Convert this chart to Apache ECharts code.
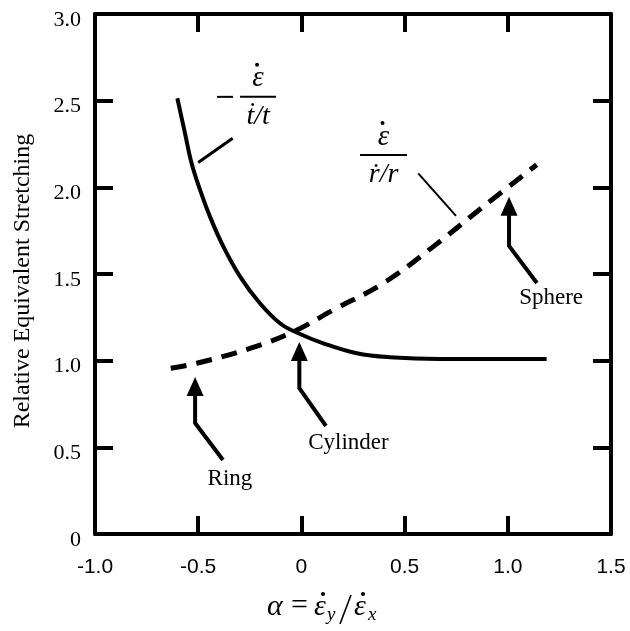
<!DOCTYPE html>
<html>
<head>
<meta charset="utf-8">
<script src="https://cdn.jsdelivr.net/npm/echarts@6/dist/echarts.min.js"></script>
<style>
html, body { margin: 0; padding: 0; background: #fff; }
#chart { width: 630px; height: 631px; }
</style>
</head>
<body>
<div id="chart"></div>
<script>
// solid curve: -eps / (t'/t)
var timeX = [-0.601, -0.564, -0.532, -0.491, -0.443, -0.378, -0.297, -0.201, -0.104, -0.015, 0.106, 0.268, 0.429, 0.672, 0.900, 1.188];
var timeY = [2.514, 2.312, 2.139, 1.985, 1.831, 1.658, 1.485, 1.331, 1.216, 1.158, 1.100, 1.043, 1.020, 1.010, 1.010, 1.010];
// dashed curve: eps / (r'/r)
var radiusX = [-0.633, -0.507, -0.249, -0.039, 0.155, 0.397, 0.639, 0.881, 1.140];
var radiusY = [0.956, 0.985, 1.071, 1.167, 1.293, 1.447, 1.658, 1.889, 2.130];

// arrow annotations (data coords)
var arrowNames = ['Sphere', 'Cylinder', 'Ring'];
var arrowTip = [[1.006, 1.945], [-0.010, 1.108], [-0.515, 0.906]];
var arrowBend = [1.662, 0.842, 0.640];
var arrowTail = [[1.141, 1.448], [0.119, 0.623], [-0.380, 0.427]];
var arrowLabel = [[1.210, 1.362], [0.228, 0.525], [-0.346, 0.317]];

// curve labels (fractions) and their leader lines
var fracAt = [[-0.210, 2.522], [0.398, 2.187]];
var fracDen = ['\u1E6B/t', '\u1E59/r'];
var leaderFrom = [[-0.500, 2.143], [0.566, 2.081]];
var leaderTo = [[-0.333, 2.283], [0.749, 1.835]];

var xTicks = [-1.0, -0.5, 0, 0.5, 1.0, 1.5];
var yTicks = [0, 0.5, 1.0, 1.5, 2.0, 2.5, 3.0];

var serif = '"Liberation Serif", "Times New Roman", serif';
var sans = '"Liberation Sans", Arial, sans-serif';

function zip(xs, ys) {
    return xs.map(function (x, i) { return [x, ys[i]]; });
}

function fmt(v) {
    return v === 0 ? '0' : v.toFixed(1);
}

function txt(x, y, s, font, align) {
    return { type: 'text', x: x, y: y,
             style: { text: s, font: font, fill: '#000', align: align || 'left', verticalAlign: 'middle' } };
}

function dot(x, y, r) {
    return { type: 'circle', shape: { cx: x, cy: y, r: r || 2 }, style: { fill: '#000' } };
}

function drawArrow(params, api) {
    var i = params.dataIndex;
    var tip = api.coord(arrowTip[i]);
    var bend = api.coord([arrowTip[i][0], arrowBend[i]]);
    var tail = api.coord(arrowTail[i]);
    var lab = api.coord(arrowLabel[i]);
    var hh = 19, hw = 8.5;
    return {
        type: 'group',
        children: [
            { type: 'polyline', shape: { points: [tail, bend, [tip[0], tip[1] + hh - 2]] },
              style: { stroke: '#000', lineWidth: 4, fill: null } },
            { type: 'polygon', shape: { points: [tip, [tip[0] - hw, tip[1] + hh], [tip[0] + hw, tip[1] + hh]] },
              style: { fill: '#000' } },
            txt(lab[0], lab[1], arrowNames[i], '23px ' + serif, 'center')
        ]
    };
}

function drawFraction(params, api) {
    var i = params.dataIndex;
    var p = api.coord(fracAt[i]);
    var half = i === 0 ? 18 : 23.5;
    var kids = [
        { type: 'line', shape: { x1: p[0] - half, y1: p[1], x2: p[0] + half, y2: p[1] },
          style: { stroke: '#000', lineWidth: 2 } },
        txt(p[0], p[1] - 18, '\u03B5', 'italic 29px ' + serif, 'center'),
        dot(p[0] - 1, p[1] - 32, 2),
        txt(p[0], p[1] + 20, fracDen[i], 'italic 28px ' + serif, 'center')
    ];
    if (i === 0) {
        kids.push({ type: 'line', shape: { x1: p[0] - half - 23, y1: p[1], x2: p[0] - half - 7, y2: p[1] },
                    style: { stroke: '#000', lineWidth: 2 } });
    }
    return { type: 'group', children: kids };
}

function drawLeader(params, api) {
    var i = params.dataIndex;
    var a = api.coord(leaderFrom[i]);
    var b = api.coord(leaderTo[i]);
    return { type: 'line', shape: { x1: a[0], y1: a[1], x2: b[0], y2: b[1] },
             style: { stroke: '#000', lineWidth: i === 0 ? 3 : 2 } };
}

// x axis title: alpha = eps_y / eps_x
var big = 'italic 30px ' + serif, sub = 'italic 19px ' + serif;
var xTitle = [
    txt(267, 607, '\u03B1', big),
    txt(291, 606, '=', '30px ' + serif),
    txt(314, 607, '\u03B5', big), dot(323, 594),
    txt(327, 615, 'y', sub),
    { type: 'line', shape: { x1: 351, y1: 595, x2: 340, y2: 624 }, style: { stroke: '#000', lineWidth: 1.6 } },
    txt(354, 607, '\u03B5', big), dot(363, 594),
    txt(368, 615, 'x', sub)
];

var axisLine = { show: true, onZero: false, lineStyle: { color: '#000', width: 4 } };
var axisTick = { show: true, inside: true, length: 18, lineStyle: { color: '#000', width: 4 } };

var chart = echarts.init(document.getElementById('chart'));
var option = {
    animation: false,
    backgroundColor: '#fff',
    grid: { left: 95, right: 19, top: 14, bottom: 97 },
    graphic: xTitle,
    xAxis: [{
        type: 'value', min: xTicks[0], max: xTicks[xTicks.length - 1], interval: 0.5,
        position: 'bottom',
        axisLine: axisLine, axisTick: axisTick, splitLine: { show: false },
        axisLabel: { color: '#000', fontFamily: sans, fontSize: 21, margin: 23, formatter: fmt }
    }, {
        type: 'value', min: xTicks[0], max: xTicks[xTicks.length - 1], interval: 0.5,
        position: 'top',
        axisLine: axisLine, axisTick: axisTick, splitLine: { show: false }, axisLabel: { show: false }
    }],
    yAxis: [{
        type: 'value', min: yTicks[0], max: yTicks[yTicks.length - 1], interval: 0.5,
        position: 'left',
        axisLine: axisLine, axisTick: axisTick, splitLine: { show: false },
        axisLabel: {
            color: '#000', margin: 14,
            formatter: function (v) { return '{v|' + fmt(v) + '}'; },
            rich: { v: { fontFamily: serif, fontSize: 22, color: '#000', padding: [12, 0, 0, 0] } }
        },
        name: 'Relative Equivalent Stretching',
        nameLocation: 'middle', nameGap: 60, nameRotate: 90,
        nameTextStyle: { color: '#000', fontFamily: serif, fontSize: 24, padding: [0, 14, 0, 0] }
    }, {
        type: 'value', min: yTicks[0], max: yTicks[yTicks.length - 1], interval: 0.5,
        position: 'right',
        axisLine: axisLine, axisTick: axisTick, splitLine: { show: false }, axisLabel: { show: false }
    }],
    series: [{
        name: 'time', type: 'line', data: zip(timeX, timeY), smooth: 0.4,
        showSymbol: false, symbol: 'none',
        lineStyle: { color: '#000', width: 4 }
    }, {
        name: 'radius', type: 'line', data: zip(radiusX, radiusY), smooth: 0.4,
        showSymbol: false, symbol: 'none',
        lineStyle: { color: '#000', width: 5, type: [16, 10], cap: 'butt' }
    }, {
        type: 'custom', renderItem: drawArrow, data: arrowTip, clip: false, silent: true
    }, {
        type: 'custom', renderItem: drawFraction, data: fracAt, clip: false, silent: true
    }, {
        type: 'custom', renderItem: drawLeader, data: leaderFrom, clip: false, silent: true
    }]
};
chart.setOption(option);
</script>
</body>
</html>
